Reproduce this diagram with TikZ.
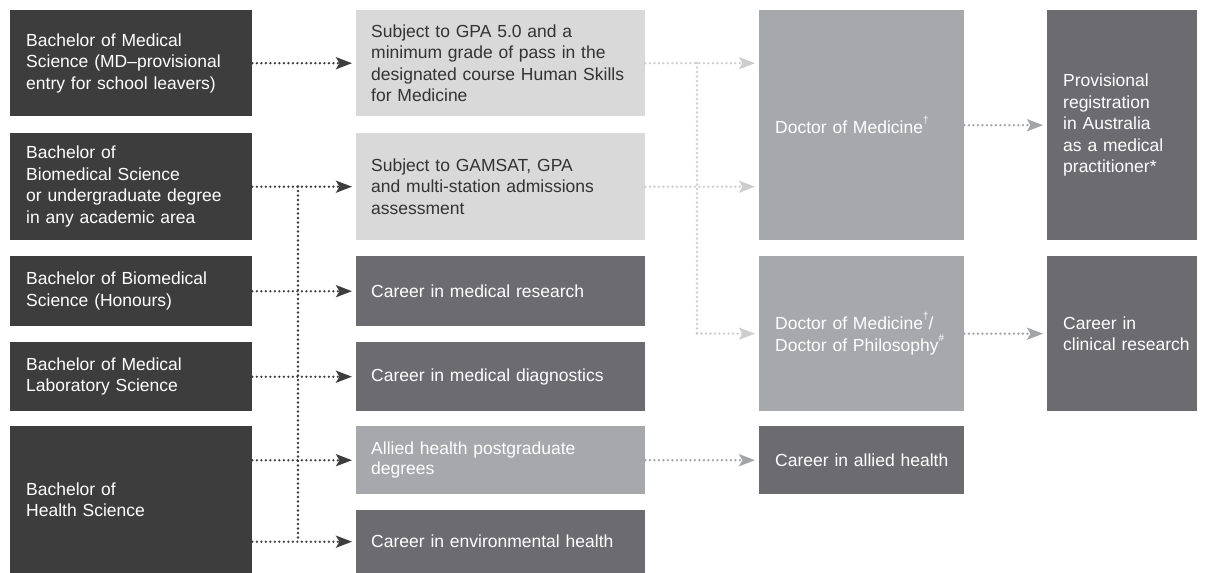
\documentclass[tikz,border=0pt]{standalone}
\usepackage{fontspec}
\setmainfont{Liberation Sans}
\usetikzlibrary{arrows.meta}
\definecolor{cdark}{HTML}{3D3D3D}
\definecolor{cmid}{HTML}{6C6C70}
\definecolor{cgray}{HTML}{A7A8AB}
\definecolor{clight}{HTML}{D9D9D9}
\definecolor{ctext}{HTML}{333333}
\definecolor{lnlight}{HTML}{CDCDCD}
\definecolor{lngray}{HTML}{A3A4A7}
\newcommand\myboxfont{\fontsize{17.5}{21.5}\selectfont}
\newcommand\myboxfontb{\fontsize{17.5}{20}\selectfont}
\newcommand\mysup[1]{\raisebox{0.55em}{\fontsize{10}{10}\selectfont #1}}
\begin{document}
\begin{tikzpicture}[x=1pt,y=-1pt,
  bx/.style={anchor=north west, inner xsep=16pt, inner ysep=0pt, align=left,
    font=\myboxfont, text=white},
  c1/.style={bx, fill=cdark, text width=210pt},
  c2/.style={bx, inner xsep=15pt, text width=259pt},
  c3/.style={bx, fill=cgray, text width=173pt},
  c4/.style={bx, fill=cmid, text width=118pt},
  dotline/.style={line width=2.6pt, dash pattern=on 0pt off 4.5pt, line cap=round},
  tip/.style={-{Stealth[length=16pt,width=12pt,inset=3.5pt]}, shorten >=4pt},
  dk/.style={dotline, draw=cdark, tip},
  dkline/.style={dotline, draw=cdark},
  lt/.style={dotline, draw=lnlight, tip},
  ltline/.style={dotline, draw=lnlight},
  gr/.style={dotline, draw=lngray, tip}
]
\useasboundingbox (0,0) rectangle (1205,573);

% column 1
\node[c1, minimum height=106pt] (b1) at (10,10) {Bachelor of Medical\\Science (MD--provisional\\entry for school leavers)};
\node[c1, minimum height=107pt] (b2) at (10,133) {Bachelor of\\Biomedical Science\\or undergraduate degree\\in any academic area};
\node[c1, minimum height=70pt] (b3) at (10,256) {Bachelor of Biomedical\\Science (Honours)};
\node[c1, minimum height=69pt] (b4) at (10,342) {Bachelor of Medical\\Laboratory Science};
\node[c1, minimum height=147pt] (b5) at (10,426) {Bachelor of\\Health Science};

% column 2
\node[c2, fill=clight, text=ctext, minimum height=106pt] (A) at (356,10) {Subject to GPA 5.0 and a\\minimum grade of pass in the\\designated course Human Skills\\for Medicine};
\node[c2, fill=clight, text=ctext, minimum height=107pt] (B) at (356,133) {Subject to GAMSAT, GPA\\and multi-station admissions\\assessment};
\node[c2, fill=cmid, minimum height=70pt] (C) at (356,256) {Career in medical research};
\node[c2, fill=cmid, minimum height=69pt] (D) at (356,342) {Career in medical diagnostics};
\node[c2, fill=cgray, minimum height=68pt, font=\myboxfontb] (E) at (356,426) {Allied health postgraduate\\degrees};
\node[c2, fill=cmid, minimum height=63pt] (F) at (356,510) {Career in environmental health};

% column 3
\node[c3, minimum height=230pt] (MD) at (759,10) {Doctor of Medicine\mysup{†}};
\node[c3, minimum height=155pt] (PhD) at (759,256) {Doctor of Medicine\mysup{†}/\\Doctor of Philosophy\mysup{\#}};
\node[c3, fill=cmid, minimum height=68pt] (AH) at (759,426) {\mbox{Career in allied health}};

% column 4
\node[c4, minimum height=230pt] (Prov) at (1047,10) {Provisional\\registration\\in Australia\\as a medical\\practitioner*};
\node[c4, minimum height=155pt] (Clin) at (1047,256) {Career in\\\mbox{clinical research}};

% connectors from column 1
\coordinate (j1) at (298,186.5);
\coordinate (j2) at (298,541.5);
\draw[dk] (b1.east) -- (A.west);
\draw[dk] (b2.east) -- (B.west);
\draw[dkline] (j1) -- (j2);
\draw[dk] (b3.east) -- (C.west);
\draw[dk] (b4.east) -- (D.west);
\draw[dk] (b5.east |- E.west) -- (E.west);
\draw[dk] (b5.east |- F.west) -- (F.west);

% connectors from column 2
\coordinate (k1) at (697,63);
\coordinate (k2) at (697,333.5);
\draw[lt] (A.east) -- (MD.west |- A.east);
\draw[lt] (B.east) -- (MD.west |- B.east);
\draw[ltline] (k1) -- (k2);
\draw[lt] (k2) -- (PhD.west);
\draw[gr] (E.east) -- (AH.west);

% connectors from column 3
\draw[gr] (MD.east) -- (Prov.west);
\draw[gr] (PhD.east) -- (Clin.west);
\end{tikzpicture}
\end{document}
